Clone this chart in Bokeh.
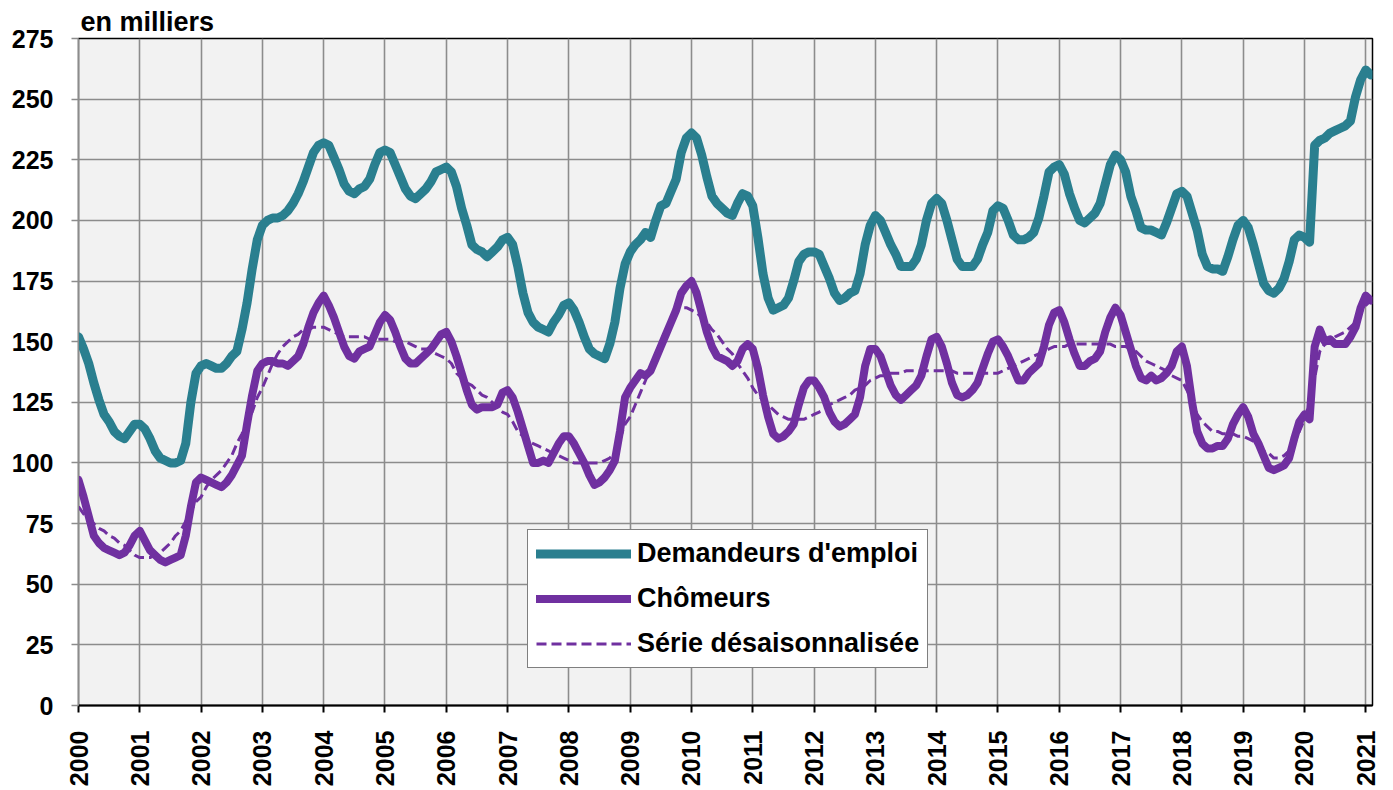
import numpy as np
from bokeh.plotting import figure
from bokeh.models import (ColumnDataSource, Range1d, FixedTicker, Legend, LegendItem)
from bokeh.embed import file_html
from bokeh.resources import INLINE

start_year = 2000
year_ticks = list(range(2000, 2022))
y_ticks = list(range(0, 276, 25))

demandeurs = [
    152,147,141,133,126,120,117,113,111,110,113,116,
    116,114,110,105,102,101,100,100,101,108,125,137,
    140,141,140,139,139,141,144,146,155,166,180,192,
    198,200,201,201,202,204,207,211,216,222,228,231,
    232,231,226,221,215,212,211,213,214,217,223,228,
    229,228,223,218,213,210,209,211,213,216,220,221,
    222,220,214,205,198,190,188,187,185,187,189,192,
    193,190,181,170,162,158,156,155,154,158,161,165,
    166,163,158,152,147,145,144,143,149,158,172,182,
    187,190,192,195,193,200,206,207,212,217,228,234,
    236,234,227,218,210,207,205,203,202,207,211,210,
    206,193,178,168,163,164,165,168,175,183,186,187,
    187,186,181,176,170,167,168,170,171,178,190,198,
    202,200,195,190,186,181,181,181,184,190,200,207,
    209,207,200,192,184,181,181,181,184,190,195,204,
    206,205,200,194,192,192,193,195,201,210,220,222,
    223,219,211,205,200,199,201,203,207,215,223,227,
    225,220,210,204,197,196,196,195,194,199,205,211,
    212,210,203,196,186,181,180,180,179,185,192,198,
    200,197,190,182,174,171,170,172,176,183,192,194,
    193,191,231,233,234,236,237,238,239,241,251,258,
    262,260,
]

chomeurs = [
    93,86,78,70,67,65,64,63,62,63,66,70,
    72,68,64,62,60,59,60,61,62,70,82,92,
    94,93,92,91,90,92,95,99,103,116,128,138,
    141,142,142,141,141,140,142,144,149,156,162,166,
    169,165,160,154,148,144,143,146,147,148,153,158,
    161,159,154,148,143,141,141,143,145,147,150,153,
    154,150,144,137,130,124,122,123,123,123,124,129,
    130,127,121,114,107,100,100,101,100,104,108,111,
    111,108,104,100,95,91,92,94,97,101,113,127,
    131,134,137,136,138,143,148,153,158,163,170,173,
    175,170,162,154,148,144,143,142,140,142,147,149,
    147,139,128,119,112,110,111,113,116,124,131,134,
    134,131,127,121,117,115,116,118,120,127,140,147,
    147,144,138,132,128,126,128,130,132,136,144,151,
    152,148,141,133,128,127,128,130,133,139,145,150,
    151,148,144,139,134,134,137,139,141,148,157,162,
    163,158,151,145,140,140,142,143,146,154,160,164,
    161,154,147,140,135,134,136,134,135,137,140,146,
    148,140,125,113,108,106,106,107,107,110,116,120,
    123,119,112,108,103,98,97,98,99,102,110,117,
    120,118,148,155,150,151,149,149,149,152,156,164,
    169,167,
]

desaison = [
    82,79,77,75,73,72,70,69,67,66,64,62,
    61,61,61,62,63,65,67,70,72,76,80,84,
    86,90,93,95,97,100,103,108,112,117,121,127,
    131,136,141,145,148,150,152,153,155,155,156,156,
    156,155,154,153,152,152,152,152,152,151,151,151,
    151,151,150,150,150,149,148,147,147,146,145,144,
    143,141,137,135,133,132,130,128,127,125,123,121,
    120,117,113,111,109,108,107,106,105,104,103,102,
    101,100,100,100,100,100,100,101,102,104,110,116,
    119,124,129,134,140,145,150,155,159,163,164,164,
    163,162,160,158,155,153,150,147,145,141,138,135,
    131,128,126,124,122,120,119,118,118,118,118,119,
    120,121,122,124,125,126,127,128,130,131,132,134,
    135,136,136,137,137,137,138,138,138,138,138,138,
    138,138,138,138,137,137,137,137,137,137,137,137,
    137,138,139,140,141,142,143,144,145,146,147,148,
    148,148,149,149,149,149,149,149,149,149,149,148,
    148,148,147,146,144,142,141,140,139,138,136,135,
    134,130,125,120,117,115,113,113,112,112,112,111,
    111,110,109,107,105,104,102,102,103,105,108,113,
    118,125,135,146,149,150,152,153,154,156,158,162,
    165,167,
]

n = len(demandeurs)
src = ColumnDataSource(dict(
    x=start_year + np.arange(n) / 12.0,
    dem=demandeurs[:n],
    cho=chomeurs[:n],
    des=desaison[:n],
))

TEAL = "#2A7F8F"
PURPLE = "#7030A0"
FONT = "Liberation Sans"

p = figure(frame_width=1294, frame_height=667,
           x_range=Range1d(2000, 2021.11), y_range=Range1d(0, 275),
           output_backend="svg", toolbar_location=None,
           min_border_left=78, min_border_top=38, min_border_right=15, min_border_bottom=10,
           background_fill_color="#f2f2f2", border_fill_color="white",
           outline_line_color="black", outline_line_width=1.5,
           title="en milliers")

p.title.align = "left"
p.title.offset = 2
p.title.standoff = 4
p.title.text_font = FONT
p.title.text_font_style = "bold"
p.title.text_font_size = "27px"
p.title.text_color = "black"

# grids
p.xgrid.ticker = FixedTicker(ticks=year_ticks)
p.ygrid.ticker = FixedTicker(ticks=y_ticks)
for g in (p.xgrid, p.ygrid):
    g.grid_line_color = "#8c8c8c"
    g.grid_line_width = 1.6

# axes
p.xaxis.ticker = FixedTicker(ticks=year_ticks)
p.yaxis.ticker = FixedTicker(ticks=y_ticks)
p.xaxis.major_label_orientation = np.pi / 2
for ax in (p.xaxis, p.yaxis):
    ax.major_label_text_font = FONT
    ax.major_label_text_font_style = "bold"
    ax.major_label_text_font_size = "25px"
    ax.major_label_text_color = "black"
    ax.minor_tick_line_color = None
    ax.major_tick_in = 0
    ax.major_tick_out = 7
p.xaxis.major_label_standoff = 18
p.yaxis.major_label_standoff = 18
p.xaxis.axis_line_color = "black"
p.xaxis.axis_line_width = 2
p.xaxis.major_tick_line_color = "black"
p.xaxis.major_tick_line_width = 2
p.yaxis.axis_line_color = "#8c8c8c"
p.yaxis.major_tick_line_color = "#8c8c8c"
p.yaxis.major_tick_line_width = 1.6

r1 = p.line("x", "dem", source=src, line_color=TEAL, line_width=9,
            line_join="round", line_cap="round")
r2 = p.line("x", "cho", source=src, line_color=PURPLE, line_width=8,
            line_join="round", line_cap="round")
r3 = p.line("x", "des", source=src, line_color=PURPLE, line_width=3,
            line_dash="10 5")

legend = Legend(items=[
    LegendItem(label="Demandeurs d'emploi", renderers=[r1]),
    LegendItem(label="Chômeurs", renderers=[r2]),
    LegendItem(label="Série désaisonnalisée", renderers=[r3]),
], location=(449, 37))
legend.label_text_font = FONT
legend.label_text_font_style = "bold"
legend.label_text_font_size = "27px"
legend.label_text_color = "black"
legend.glyph_width = 95
legend.glyph_height = 31
legend.label_height = 31
legend.spacing = 14
legend.padding = 8
legend.label_standoff = 6
legend.border_line_color = "black"
legend.border_line_width = 1.5
legend.background_fill_color = "white"
legend.background_fill_alpha = 1.0
p.add_layout(legend)

open("out.html", "w").write(file_html(p, INLINE))
